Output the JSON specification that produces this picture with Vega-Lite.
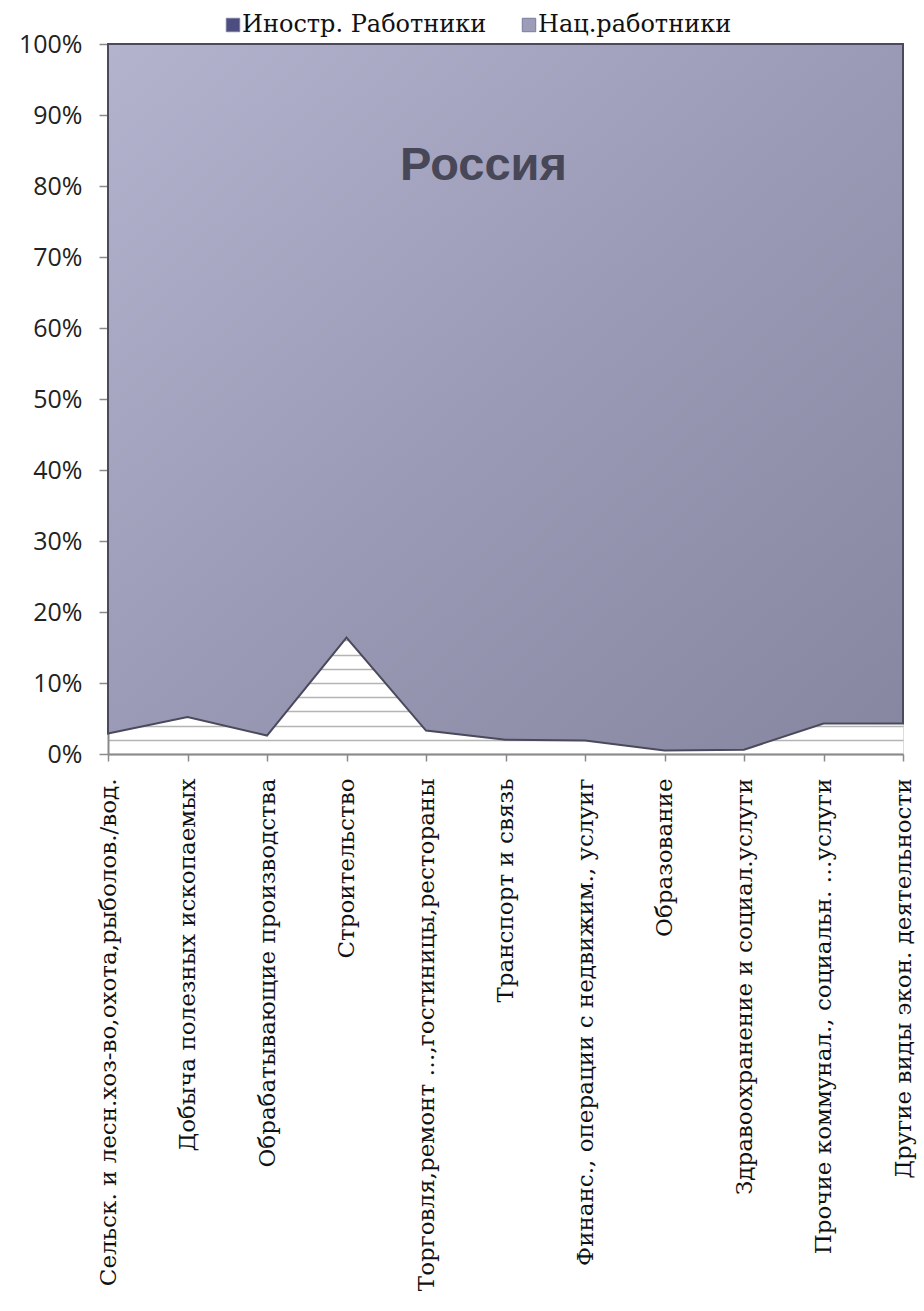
{
  "$schema": "https://vega.github.io/schema/vega-lite/v6.json",
  "width": 795,
  "height": 710,
  "autosize": {"type": "none"},
  "padding": {"left": 108, "top": 44, "right": 21, "bottom": 557},
  "background": "white",
  "title": {
    "text": "Россия",
    "frame": "group",
    "anchor": "middle",
    "orient": "top",
    "offset": -131,
    "baseline": "alphabetic",
    "dx": -22,
    "dy": 83,
    "font": "Liberation Sans",
    "fontSize": 47,
    "fontWeight": "bold",
    "color": "#474757"
  },
  "data": {
    "values": [
      {"sector": "Сельск. и лесн.хоз-во,охота,рыболов./вод.", "series": "Иностр. Работники", "ord": 1, "share": 2.9},
      {"sector": "Сельск. и лесн.хоз-во,охота,рыболов./вод.", "series": "Нац.работники", "ord": 2, "share": 97.1},
      {"sector": "Добыча полезных ископаемых", "series": "Иностр. Работники", "ord": 1, "share": 5.2},
      {"sector": "Добыча полезных ископаемых", "series": "Нац.работники", "ord": 2, "share": 94.8},
      {"sector": "Обрабатывающие производства", "series": "Иностр. Работники", "ord": 1, "share": 2.6},
      {"sector": "Обрабатывающие производства", "series": "Нац.работники", "ord": 2, "share": 97.4},
      {"sector": "Строительство", "series": "Иностр. Работники", "ord": 1, "share": 16.4},
      {"sector": "Строительство", "series": "Нац.работники", "ord": 2, "share": 83.6},
      {"sector": "Торговля,ремонт …,гостиницы,рестораны", "series": "Иностр. Работники", "ord": 1, "share": 3.3},
      {"sector": "Торговля,ремонт …,гостиницы,рестораны", "series": "Нац.работники", "ord": 2, "share": 96.7},
      {"sector": "Транспорт и связь", "series": "Иностр. Работники", "ord": 1, "share": 2.0},
      {"sector": "Транспорт и связь", "series": "Нац.работники", "ord": 2, "share": 98.0},
      {"sector": "Финанс., операции с недвижим., услуиг", "series": "Иностр. Работники", "ord": 1, "share": 1.9},
      {"sector": "Финанс., операции с недвижим., услуиг", "series": "Нац.работники", "ord": 2, "share": 98.1},
      {"sector": "Образование", "series": "Иностр. Работники", "ord": 1, "share": 0.5},
      {"sector": "Образование", "series": "Нац.работники", "ord": 2, "share": 99.5},
      {"sector": "Здравоохранение и социал.услуги", "series": "Иностр. Работники", "ord": 1, "share": 0.6},
      {"sector": "Здравоохранение и социал.услуги", "series": "Нац.работники", "ord": 2, "share": 99.4},
      {"sector": "Прочие коммунал., социальн. …услуги", "series": "Иностр. Работники", "ord": 1, "share": 4.3},
      {"sector": "Прочие коммунал., социальн. …услуги", "series": "Нац.работники", "ord": 2, "share": 95.7},
      {"sector": "Другие виды экон. деятельности", "series": "Иностр. Работники", "ord": 1, "share": 4.3},
      {"sector": "Другие виды экон. деятельности", "series": "Нац.работники", "ord": 2, "share": 95.7}
    ]
  },
  "encoding": {
    "x": {
      "field": "sector",
      "type": "nominal",
      "sort": null,
      "scale": {"type": "point", "padding": 0},
      "axis": {
        "title": null,
        "labelAngle": -90,
        "labelFont": "DejaVu Serif",
        "labelFontSize": 23,
        "labelColor": "#111111",
        "labelLimit": 0,
        "labelPadding": 17,
        "labelOverlap": false,
        "tickSize": 7,
        "tickColor": "#8a8a8a",
        "tickWidth": 1.5,
        "domainColor": "#8a8a8a",
        "domainWidth": 2,
        "grid": false
      }
    },
    "y": {
      "field": "share",
      "type": "quantitative",
      "stack": "normalize",
      "scale": {"domain": [0, 1], "nice": false},
      "axis": {
        "title": null,
        "values": [0, 0.02, 0.04, 0.06, 0.08, 0.1, 0.12, 0.14, 0.16, 0.18, 0.2, 0.22, 0.24, 0.26, 0.28, 0.3, 0.32, 0.34, 0.36, 0.38, 0.4, 0.42, 0.44, 0.46, 0.48, 0.5, 0.52, 0.54, 0.56, 0.58, 0.6, 0.62, 0.64, 0.66, 0.68, 0.7, 0.72, 0.74, 0.76, 0.78, 0.8, 0.82, 0.84, 0.86, 0.88, 0.9, 0.92, 0.94, 0.96, 0.98, 1],
        "format": ".0%",
        "labelExpr": "round(datum.value*100) % 10 === 0 ? datum.label : ''",
        "labelOverlap": false,
        "labelFont": "Open Sans",
        "labelFontSize": 25,
        "labelColor": "#222222",
        "labelPadding": 17,
        "grid": true,
        "gridColor": "#b4b4b4",
        "gridWidth": 1.5,
        "tickSize": 9,
        "tickWidth": 1.5,
        "tickColor": "#8a8a8a",
        "tickOpacity": {"condition": {"test": "round(datum.value*100) % 10 === 0", "value": 1}, "value": 0},
        "domainColor": "#8a8a8a",
        "domainWidth": 2
      }
    },
    "order": {"field": "ord", "type": "quantitative"}
  },
  "layer": [
    {
      "mark": {"type": "area"},
      "encoding": {
        "color": {
          "field": "series",
          "type": "nominal",
          "scale": {"domain": ["Иностр. Работники", "Нац.работники"], "range": ["#4d4d80", "#9d9dba"]},
          "legend": {
            "orient": "none",
            "legendX": 113,
            "legendY": -31,
            "direction": "horizontal",
            "title": null,
            "symbolType": "square",
            "symbolSize": 180,
            "symbolStrokeColor": "#7a7aa0",
            "symbolStrokeWidth": 1,
            "labelFont": "DejaVu Serif",
            "labelFontSize": 24,
            "labelColor": "#111111",
            "labelOffset": -3,
            "labelLimit": 0,
            "columnPadding": 30,
            "padding": 0
          }
        },
        "fillOpacity": {
          "field": "series",
          "type": "ordinal",
          "scale": {"domain": ["Иностр. Работники", "Нац.работники"], "range": [0, 0]},
          "legend": null
        }
      }
    },
    {
      "mark": {
        "type": "area",
        "fill": {"gradient": "linear", "x1": 0, "y1": 0, "x2": 1, "y2": 1, "stops": [{"offset": 0, "color": "#b3b3ce"}, {"offset": 0.5, "color": "#9a9ab6"}, {"offset": 1, "color": "#8686a0"}]},
        "stroke": "#4a4a5c",
        "strokeWidth": 2,
        "strokeJoin": "miter"
      },
      "encoding": {
        "detail": {"field": "series", "type": "nominal"},
        "fillOpacity": {
          "field": "series",
          "type": "ordinal",
          "scale": {"domain": ["Иностр. Работники", "Нац.работники"], "range": [0, 1]},
          "legend": null
        },
        "strokeOpacity": {
          "field": "series",
          "type": "ordinal",
          "scale": {"domain": ["Иностр. Работники", "Нац.работники"], "range": [0, 1]},
          "legend": null
        }
      }
    }
  ],
  "resolve": {"scale": {"fillOpacity": "independent"}}
}
